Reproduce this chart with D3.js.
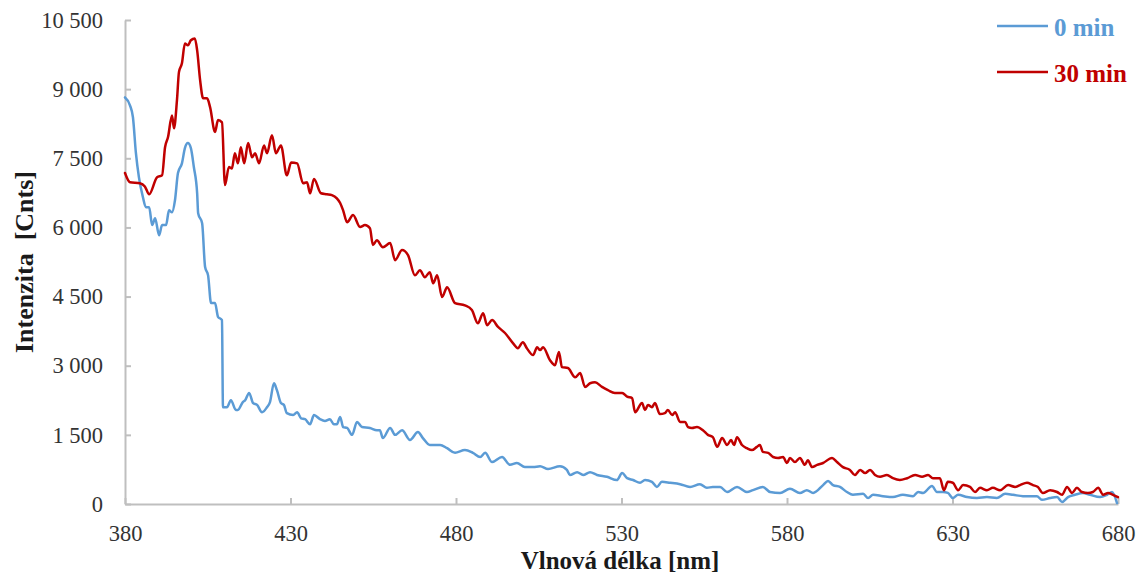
<!DOCTYPE html>
<html><head><meta charset="utf-8">
<script src="https://cdn.jsdelivr.net/npm/d3@7"></script>
<style>body{margin:0;background:#fff} svg{display:block}</style>
</head><body>
<svg id="chart" width="1138" height="575"></svg>
<script>
const xTicks = [380, 430, 480, 530, 580, 630, 680];
const yTicks = [0, 1500, 3000, 4500, 6000, 7500, 9000, 10500];
const seriesNames = ["0 min", "30 min"];
const seriesColors = ["#5B9BD5", "#C00000"];
const xTitle = "Vlnová délka [nm]";
const yTitle = "Intenzita  [Cnts]";

// 0 min spectrum
const wl0 = [
 380.0,381.5,382.4,383.3,384.2,385.4,386.3,387.3,388.2,389.1,
 390.3,391.2,392.4,393.3,394.2,395.1,396.0,397.2,398.1,399.0,
 399.9,400.8,401.8,402.1,403.3,404.2,405.1,406.0,407.2,408.1,
 409.3,409.6,410.8,412.0,413.5,414.1,415.6,416.3,417.5,418.7,
 419.9,421.4,422.9,423.8,425.0,425.9,427.1,428.0,428.9,430.8,
 432.0,433.2,434.4,435.9,437.1,438.9,440.4,441.9,443.1,444.0,
 445.0,445.9,447.1,448.6,450.1,451.6,454.0,456.1,457.0,457.9,
 460.1,461.6,463.7,466.1,468.5,470.0,472.1,475.2,477.3,479.7,
 482.7,485.1,487.3,488.8,490.9,493.9,496.3,498.4,500.8,503.3,
 505.4,507.8,511.4,513.5,514.4,516.6,518.4,520.5,522.6,525.6,
 528.6,530.2,531.7,533.5,535.6,537.1,539.2,540.7,542.2,544.7,
 547.7,550.7,553.7,555.8,557.6,559.8,561.9,564.9,567.9,569.7,
 572.7,574.9,577.9,580.9,583.9,586.0,587.9,590.9,592.4,593.9,
 596.0,598.1,599.9,603.0,604.5,606.0,609.0,612.0,615.0,618.1,
 619.6,621.1,623.8,625.3,627.1,628.6,630.1,631.7,634.4,637.4,
 640.4,643.4,645.9,648.3,651.3,655.5,657.0,659.5,661.6,663.1,
 664.9,667.0,669.4,671.5,674.6,676.7,678.2,679.7
];
const counts0 = [
 8820,8650,8390,7610,7090,6660,6440,6440,6050,6200,
 5830,6050,6050,6370,6330,6590,7180,7390,7720,7830,
 7720,7310,6740,6310,6090,5140,4960,4360,4360,4060,
 3990,2100,2100,2250,2040,2040,2210,2250,2410,2190,
 2150,1990,2100,2210,2620,2470,2190,2150,1970,1930,
 1990,1860,1840,1730,1930,1840,1800,1840,1730,1730,
 1890,1670,1650,1500,1780,1670,1650,1600,1600,1430,
 1650,1500,1600,1390,1560,1430,1280,1280,1210,1110,
 1170,1110,1020,1110,910,1020,850,890,800,800,
 820,760,820,740,630,690,630,690,630,590,
 520,670,560,520,460,520,480,370,480,460,
 430,370,430,350,370,370,260,370,260,300,
 370,260,240,330,240,300,240,410,500,410,
 370,260,200,220,130,200,170,150,200,170,
 260,240,390,260,260,240,130,200,150,130,
 150,130,220,200,170,170,90,130,150,45,
 150,200,240,200,150,200,260,20
];

// 30 min spectrum
const wl30 = [
 380.0,381.5,384.5,386.0,387.3,389.7,391.2,392.1,393.0,394.2,
 394.8,395.7,396.3,397.2,398.1,399.0,399.9,401.1,401.8,402.7,
 403.6,404.8,405.7,407.2,408.1,409.3,410.2,411.4,412.3,413.2,
 414.1,415.0,416.0,417.2,418.4,419.3,420.5,422.0,422.9,424.4,
 425.6,427.1,428.9,430.2,432.0,433.8,435.0,435.9,437.1,439.2,
 441.0,442.5,444.0,445.0,445.9,447.1,448.9,451.0,452.5,454.0,
 454.9,456.1,457.9,460.1,461.6,463.7,465.5,467.6,469.1,470.6,
 472.1,473.1,474.3,475.8,477.3,479.7,482.7,484.8,486.6,488.2,
 489.4,490.9,492.7,494.8,497.2,498.7,500.2,501.4,503.3,504.5,
 505.4,506.3,508.4,509.9,511.1,512.0,513.8,516.0,517.5,519.0,
 520.5,522.0,524.1,525.9,528.0,530.2,531.7,533.2,534.1,536.2,
 537.1,538.0,539.2,540.1,541.6,543.1,544.0,545.3,546.2,547.7,
 549.2,550.1,551.3,552.8,554.6,556.1,557.6,558.9,560.4,561.9,
 563.1,564.0,564.9,566.4,567.9,569.4,570.9,571.8,572.7,574.3,
 575.8,577.3,578.8,580.0,580.9,582.4,583.9,585.4,586.3,587.6,
 589.1,590.9,593.6,595.1,596.9,599.0,600.5,602.1,603.6,605.1,
 606.6,608.1,610.2,612.0,614.1,616.3,618.7,620.8,622.6,624.1,
 626.2,627.4,628.6,630.1,631.7,633.2,635.3,636.8,638.3,640.4,
 642.2,644.4,646.8,648.9,650.4,652.5,654.3,655.8,657.3,659.5,
 661.6,663.1,664.6,666.1,667.6,669.1,670.9,672.4,674.0,675.5,
 677.0,678.5,680.0
];
const counts30 = [
 7180,6980,6960,6890,6720,7090,7130,7740,7960,8430,
 8150,8760,9370,9560,9990,9950,10060,10100,9840,9190,
 8800,8800,8610,8070,8330,8280,6920,7310,7280,7610,
 7390,7740,7390,7830,7520,7610,7390,7780,7610,8000,
 7610,7780,7130,7410,7390,6960,6980,6740,7050,6740,
 6720,6700,6630,6530,6370,6110,6270,6010,6050,5980,
 5620,5720,5570,5660,5290,5510,5400,4960,5070,4920,
 5030,4790,4960,4490,4700,4360,4310,4210,3920,4140,
 3880,3990,3840,3710,3490,3380,3510,3380,3230,3400,
 3340,3400,3120,3010,3300,2970,2950,2750,2840,2540,
 2620,2640,2540,2470,2410,2410,2330,2300,1990,2190,
 2040,2150,2100,2190,1950,1970,2040,1930,1990,1780,
 1780,1670,1650,1670,1600,1500,1450,1240,1430,1280,
 1390,1280,1450,1280,1210,1170,1240,1280,1130,1110,
 1020,1000,1020,890,1000,910,1000,850,950,800,
 850,890,1000,910,800,740,630,740,670,740,
 630,590,630,560,520,560,630,590,630,560,
 560,300,480,460,300,410,370,260,350,300,
 350,300,410,370,410,460,410,370,240,300,
 260,200,370,240,350,260,240,260,350,200,
 240,200,150
];

const svg = d3.select("#chart");
const serif = "'Liberation Serif', 'Times New Roman', serif";
const x = d3.scaleLinear().domain([380, 680]).range([125, 1118]);
const y = d3.scaleLinear().domain([0, 10500]).range([504, 20]);
const loc = d3.formatLocale({decimal: ",", thousands: " ", grouping: [3], currency: ["", ""]});
const fmt = loc.format(",d");

const gx = svg.append("g").attr("transform", "translate(0,504)")
  .call(d3.axisBottom(x).tickValues(xTicks).tickFormat(d3.format("d"))
    .tickSizeInner(-6).tickSizeOuter(0).tickPadding(21));
const gy = svg.append("g").attr("transform", "translate(125,0)")
  .call(d3.axisLeft(y).tickValues(yTicks).tickFormat(fmt)
    .tickSizeInner(-6).tickSizeOuter(0).tickPadding(22));
[gx, gy].forEach(g => {
  g.selectAll(".domain, .tick line").attr("stroke", "#bfbfbf").attr("stroke-width", 2);
  g.selectAll("text").attr("font-family", serif).attr("font-size", 22.5).attr("fill", "#333");
});

const line = d3.line().x(d => x(d[0])).y(d => y(d[1])).curve(d3.curveMonotoneX);
const series = [
  wl0.map((w, i) => [w, counts0[i]]),
  wl30.map((w, i) => [w, counts30[i]])
];
series.forEach((s, i) => {
  svg.append("path").datum(s).attr("d", line)
    .attr("fill", "none").attr("stroke", seriesColors[i])
    .attr("stroke-width", 2.5).attr("stroke-linejoin", "round").attr("stroke-linecap", "round");
});

// legend
seriesNames.forEach((n, i) => {
  const ly = 26 + i * 46;
  svg.append("line").attr("x1", 997).attr("x2", 1048).attr("y1", ly).attr("y2", ly)
    .attr("stroke", seriesColors[i]).attr("stroke-width", 2.5);
  svg.append("text").attr("x", 1054).attr("y", ly + 10)
    .attr("font-family", serif).attr("font-weight", "bold").attr("font-size", 25)
    .attr("fill", seriesColors[i]).text(n);
});

// axis titles
svg.append("text").attr("x", 620).attr("y", 569).attr("text-anchor", "middle")
  .attr("font-family", serif).attr("font-weight", "bold").attr("font-size", 25)
  .attr("fill", "#1a1a1a").text(xTitle);
svg.append("text").attr("transform", "translate(33,262) rotate(-90)")
  .attr("text-anchor", "middle").style("white-space", "pre")
  .attr("font-family", serif).attr("font-weight", "bold").attr("font-size", 26)
  .attr("fill", "#1a1a1a").text(yTitle);
</script>
</body></html>
